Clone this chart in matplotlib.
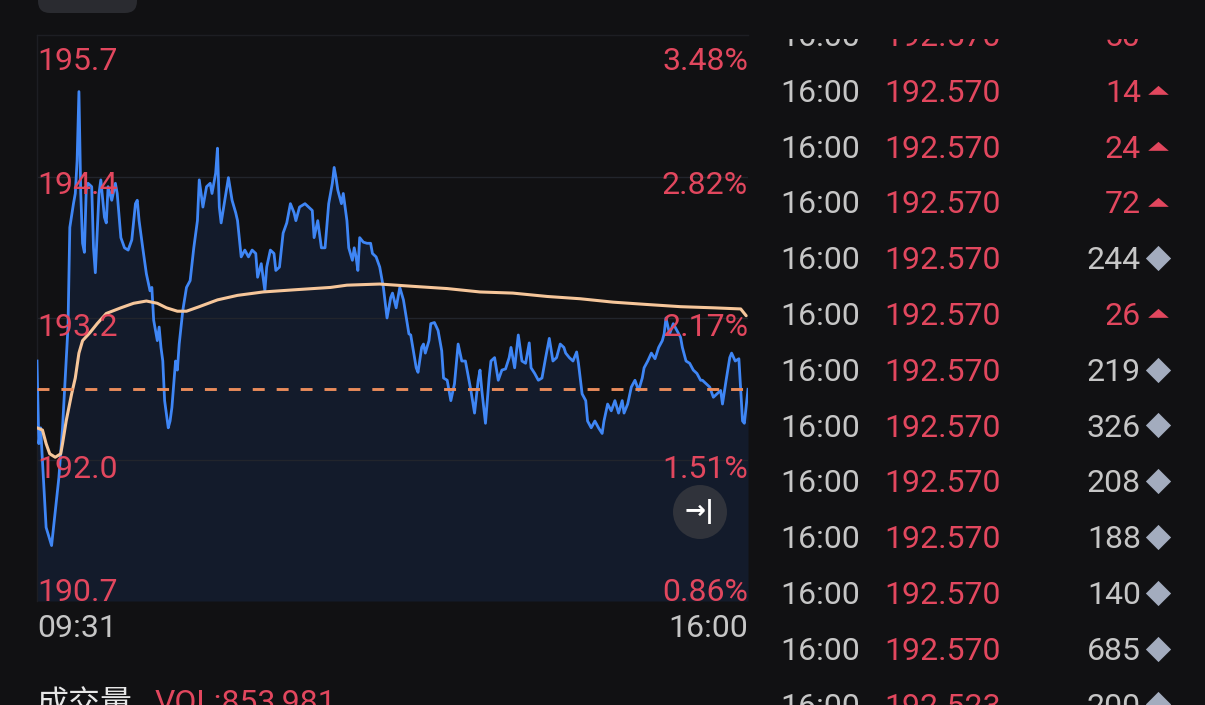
import matplotlib

matplotlib.use("Agg")

import matplotlib.pyplot as plt
from matplotlib import transforms
from matplotlib.patches import Circle, FancyBboxPatch

plt.rcParams["font.family"] = ["Roboto", "Noto Sans CJK SC", "DejaVu Sans"]

# intraday price, minutes after the open
minutes = [
    0, 1, 2, 5, 8, 12, 14, 15, 17, 18, 20, 21, 22, 23,
    24, 25, 26, 27, 28, 30, 31, 32, 34, 35, 37, 38, 39, 41, 43, 44,
    46, 48, 50, 52, 54, 55, 56, 58, 60, 62, 63, 64, 66, 67, 68, 69, 70, 72, 73, 74,
    76, 77, 78, 80, 82, 84, 86, 88, 89, 91, 93, 95, 96, 98, 99, 100, 101, 103, 105, 107,
    109, 110, 112, 114, 116, 118, 120, 121, 123, 125, 126, 128, 130, 131, 133, 135, 137, 139, 141, 142,
    144, 147, 149, 151, 152, 154, 156, 158, 160, 162, 163, 164, 165, 167, 168, 170, 171, 173, 174, 175,
    176, 177, 179, 181, 183, 184, 186, 188, 190, 192, 194, 195, 197, 199, 201, 204, 205, 208, 209, 211,
    212, 213, 215, 216, 218, 220, 222, 223, 225, 226, 227, 229, 231, 233, 235, 237, 238, 240, 242, 243,
    244, 246, 248, 249, 251, 253, 255, 257, 259, 260, 262, 264, 266, 268, 270, 271, 273, 275, 277, 279,
    281, 283, 285, 287, 289, 290, 292, 294, 296, 297, 299, 301, 302, 304, 306, 308, 310, 311, 313, 315,
    317, 319, 321, 322, 324, 326, 328, 330, 332, 333, 335, 337, 339, 341, 343, 344, 345, 347, 349, 351,
    353, 354, 356, 358, 360, 362, 364, 365, 367, 369, 371, 373, 375, 376, 378, 380, 381, 383, 385, 386,
    387, 388, 390,
]
prices = [
    192.82, 192.09, 192.23, 191.35, 191.19, 191.79, 192.23, 192.53, 193.12, 194.00, 194.21, 194.30, 194.59, 195.20,
    194.30, 193.86, 193.78, 194.33, 194.39, 194.36, 193.82, 193.60, 194.30, 194.42, 194.09, 194.04, 194.36, 194.24, 194.39, 194.30,
    193.91, 193.82, 193.80, 193.89, 194.21, 194.24, 194.06, 193.82, 193.59, 193.44, 193.47, 193.18, 193.00, 193.12, 192.94, 192.82, 192.47, 192.23, 192.29, 192.41,
    192.82, 192.74, 192.97, 193.27, 193.47, 193.53, 193.82, 194.06, 194.42, 194.18, 194.36, 194.39, 194.30, 194.48, 194.70, 194.18, 194.04, 194.24, 194.44, 194.24,
    194.13, 194.06, 193.74, 193.80, 193.74, 193.80, 193.77, 193.56, 193.68, 193.44, 193.65, 193.80, 193.77, 193.62, 193.65, 193.95, 194.04, 194.21, 194.13, 194.06,
    194.18, 194.21, 194.18, 194.15, 193.91, 194.06, 193.82, 193.82, 194.21, 194.39, 194.53, 194.44, 194.33, 194.21, 194.30, 194.06, 193.82, 193.71, 193.82, 193.74,
    193.62, 193.91, 193.87, 193.86, 193.86, 193.77, 193.74, 193.65, 193.47, 193.20, 193.38, 193.42, 193.29, 193.47, 193.36, 193.06, 193.05, 192.76, 192.72, 192.94,
    192.97, 192.89, 193.00, 193.15, 193.16, 193.09, 192.91, 192.67, 192.65, 192.56, 192.47, 192.62, 192.97, 192.82, 192.82, 192.65, 192.56, 192.36, 192.65, 192.74,
    192.56, 192.27, 192.67, 192.82, 192.85, 192.65, 192.74, 192.75, 192.85, 192.94, 192.76, 193.05, 192.82, 192.80, 192.98, 192.76, 192.71, 192.65, 192.67, 192.85,
    193.02, 192.82, 192.85, 192.97, 192.94, 192.89, 192.85, 192.82, 192.90, 192.80, 192.53, 192.47, 192.29, 192.23, 192.29, 192.23, 192.18, 192.29, 192.44, 192.38,
    192.47, 192.36, 192.47, 192.36, 192.44, 192.59, 192.65, 192.56, 192.67, 192.76, 192.82, 192.89, 192.84, 192.94, 193.00, 193.06, 193.20, 193.06, 193.15, 193.09,
    193.03, 192.94, 192.82, 192.80, 192.74, 192.71, 192.65, 192.65, 192.62, 192.59, 192.50, 192.53, 192.56, 192.44, 192.65, 192.85, 192.89, 192.82, 192.84, 192.56,
    192.29, 192.27, 192.57,
]

# average price line
avg_minutes = [
    0, 3, 5, 7, 10, 13, 14, 16, 19, 21, 23, 25, 29, 33, 38, 46, 53, 60, 66, 71,
    77, 82, 89, 99, 110, 124, 142, 161, 170, 188, 206, 225, 243, 261, 280, 298,
    316, 334, 353, 371, 386, 389,
]
avg_prices = [
    192.23, 192.21, 192.09, 192.00, 191.97, 192.00, 192.09, 192.29, 192.53, 192.67,
    192.89, 193.00, 193.07, 193.15, 193.24, 193.29, 193.33, 193.35, 193.33, 193.29,
    193.26, 193.26, 193.30, 193.36, 193.40, 193.43, 193.45, 193.47, 193.49, 193.50,
    193.48, 193.46, 193.43, 193.42, 193.39, 193.37, 193.34, 193.32, 193.30, 193.29,
    193.28, 193.22,
]

last_price = 192.57
grid_values = [195.7, 194.45, 193.2, 191.95, 190.7]
price_labels = ["195.7", "194.4", "193.2", "192.0", "190.7"]
pct_labels = ["3.48%", "2.82%", "2.17%", "1.51%", "0.86%"]
time_labels = ["09:31", "16:00"]

# trade ticks on the right
tick_times = ["16:00"] * 13
tick_prices = ["192.570"] * 12 + ["192.523"]
tick_volumes = ["50", "14", "24", "72", "244", "26", "219", "326", "208", "188", "140", "685", "200"]
tick_up = [True, True, True, True, False, True, False, False, False, False, False, False, False]

vol_title = "成交量"
vol_text = "VOL:853,981"

BG = "#111113"
RED = "#e2475e"
GRAY = "#c6c6c6"
W, H = 1205, 705

fig = plt.figure(figsize=(W / 100, H / 100), dpi=100, facecolor=BG)

# ---- intraday chart ----
ax = fig.add_axes([37 / W, 1 - 601 / H, 711 / W, 566 / H])
ax.set_facecolor(BG)
ax.set_xlim(0, 390)
ax.set_ylim(grid_values[-1], grid_values[0])
ax.set_xticks([])
ax.set_yticks([])
for side in ["right", "bottom"]:
    ax.spines[side].set_visible(False)
for side in ["left", "top"]:
    ax.spines[side].set_color("#1d1e23")
    ax.spines[side].set_linewidth(1)

ax.fill_between(minutes, prices, grid_values[-1], color="#131b2b", lw=0, zorder=1)
for v in grid_values[1:-1]:
    ax.axhline(v, color="#22252c", lw=1, zorder=2)
ax.plot(minutes, prices, color="#3f86f5", lw=2.0, zorder=3, solid_joinstyle="round")
ax.plot(avg_minutes, avg_prices, color="#f6c69a", lw=2.2, zorder=4, solid_capstyle="round")
ax.axhline(last_price, color="#e98b5b", lw=2.1, dashes=(4.1, 4.1), zorder=4)

blend = transforms.blended_transform_factory(ax.transAxes, ax.transData)
label_offsets = [-35, -17.5, -17.5, -18, 0]
for v, lab, pct, off in zip(grid_values, price_labels, pct_labels, label_offsets):
    tf = transforms.offset_copy(blend, fig=fig, y=off, units="dots")
    ax.text(0, v, lab, transform=tf, color=RED, fontsize=23, ha="left", va="baseline", zorder=6)
    ax.text(1, v, pct, transform=tf, color=RED, fontsize=23, ha="right", va="baseline", zorder=6)

fig.text(37 / W, 1 - 637 / H, time_labels[0], color=GRAY, fontsize=23, ha="left", va="baseline")
fig.text(748 / W, 1 - 637 / H, time_labels[1], color=GRAY, fontsize=23, ha="right", va="baseline")

# jump-to-latest button
fig.add_artist(Circle((7.00, 1.93), 0.27, transform=fig.dpi_scale_trans,
                      facecolor="#30333b", edgecolor="none", zorder=5))
fig.text(700 / W, 1 - 512 / H, "→|", color="white", fontsize=18, fontweight="bold",
         ha="center", va="center", family=["DejaVu Sans"], zorder=6)

# top tab remnant
fig.add_artist(FancyBboxPatch((0.38, 6.92), 0.99, 0.4, boxstyle="round,pad=0,rounding_size=0.12",
                              transform=fig.dpi_scale_trans, facecolor="#2a2b30", edgecolor="none"))

# volume header (cut at the bottom)
fig.text(37 / W, 1 - 688 / H, vol_title, color="#e6e6e6", fontsize=23, ha="left", va="top",
         family=["Noto Sans CJK SC"])
fig.text(155 / W, 1 - 688 / H, vol_text, color=RED, fontsize=23, ha="left", va="top")

# ---- tick list ----
tax = fig.add_axes([760 / W, 0, 445 / W, 666 / H])
tax.set_axis_off()
tax.set_xlim(760, 1205)
tax.set_ylim(10.81, -1.124)
rows = list(range(-1, len(tick_times) - 1))
for j, t, p, vol, up in zip(rows, tick_times, tick_prices, tick_volumes, tick_up):
    tax.text(780, j, t, color=GRAY, fontsize=23, ha="left", va="baseline", clip_on=True)
    tax.text(884, j, p, color=RED, fontsize=23, ha="left", va="baseline", clip_on=True)
    tax.text(1141, j, vol, color=RED if up else GRAY, fontsize=23, ha="right", va="baseline",
             clip_on=True)

up_rows = [j - 0.21 for j, up in zip(rows, tick_up) if up]
flat_rows = [j - 0.2 for j, up in zip(rows, tick_up) if not up]
tri = [(-1, -0.42), (1, -0.42), (0, 0.45)]
tax.scatter([1158] * len(up_rows), up_rows, marker=tri, s=220, color=RED, lw=0)
tax.scatter([1158] * len(flat_rows), flat_rows, marker="D", s=165, color="#a3acbe", lw=0)

fig.savefig("out.png", dpi=100, facecolor=BG)
